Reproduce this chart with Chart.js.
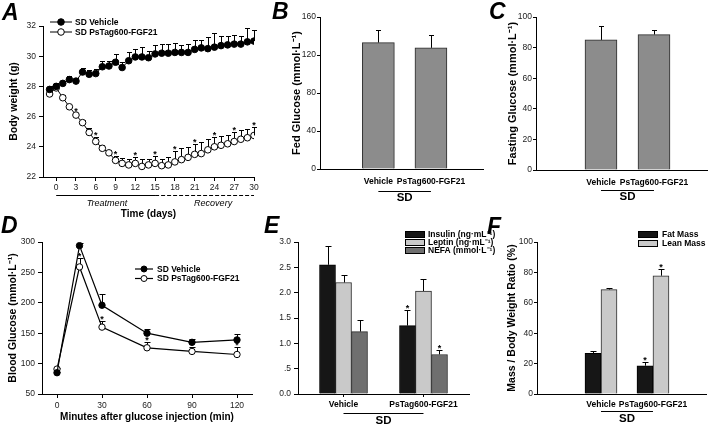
<!DOCTYPE html>
<html><head><meta charset="utf-8">
<script src="https://cdn.jsdelivr.net/npm/chart.js@4.4.1/dist/chart.umd.min.js"></script>
<style>
html,body{margin:0;padding:0;background:#fff;}
body{width:709px;height:427px;position:relative;overflow:hidden;}
.pc{position:absolute;}
.pc canvas{display:block;}
.lt{position:absolute;font-family:"Liberation Sans",Arial,sans-serif;font-weight:bold;font-style:italic;font-size:23px;line-height:23px;color:#000;}
</style></head><body>
<div class="pc" style="left:0;top:0"><canvas id="cA" width="262" height="220"></canvas></div>
<div class="pc" style="left:262px;top:0"><canvas id="cB" width="222" height="218"></canvas></div>
<div class="pc" style="left:484px;top:0"><canvas id="cC" width="225" height="218"></canvas></div>
<div class="pc" style="left:0;top:218px"><canvas id="cD" width="262" height="209"></canvas></div>
<div class="pc" style="left:262px;top:218px"><canvas id="cE" width="250" height="209"></canvas></div>
<div class="pc" style="left:500px;top:218px"><canvas id="cF" width="209" height="209"></canvas></div>
<div class="lt" style="left:2px;top:1px">A</div>
<div class="lt" style="left:272px;top:0px">B</div>
<div class="lt" style="left:489px;top:0px">C</div>
<div class="lt" style="left:1px;top:214px">D</div>
<div class="lt" style="left:264px;top:214px">E</div>
<div class="lt" style="left:487px;top:215px">F</div>
<script>
// ================= DATA =================
const seriesNames = ['SD Vehicle', 'SD PsTag600-FGF21'];
const groups = ['Vehicle', 'PsTag600-FGF21'];
const groupTitle = 'SD';

// Panel A: body weight (g)
const daysA = [-1,0,1,2,3,4,5,6,7,8,9,10,11,12,13,14,15,16,17,18,19,20,21,22,23,24,25,26,27,28,29,30];
const vehA = [27.8,28.0,28.2,28.45,28.35,28.95,28.8,28.85,29.3,29.35,29.6,29.25,29.7,29.95,29.95,29.9,30.15,30.2,30.2,30.25,30.25,30.25,30.45,30.55,30.5,30.6,30.7,30.75,30.8,30.8,30.95,31.0];
const vehAErr = [0.25,0.2,0.15,0.25,0.2,0.25,0.3,0.3,0.35,0.35,0.55,0.35,0.6,0.55,0.65,0.45,0.6,0.6,0.6,0.6,0.5,0.55,0.6,0.5,0.75,0.95,0.65,0.6,0.6,0.55,0.9,0.75];
const fgfA = [27.5,27.9,27.25,26.65,26.1,25.6,24.95,24.35,23.9,23.6,23.1,22.9,22.8,22.9,22.7,22.8,22.9,22.75,22.8,23.0,23.15,23.3,23.5,23.55,23.8,24.0,24.1,24.2,24.35,24.5,24.6,24.75];
const fgfAErr = [0.15,0.15,0.15,0.15,0.15,0.15,0.3,0.3,0.25,0.2,0.3,0.35,0.4,0.45,0.5,0.4,0.5,0.45,0.55,0.7,0.75,0.7,0.7,0.8,0.7,0.65,0.6,0.55,0.65,0.6,0.55,0.55];
const sigDaysA = [3,6,9,12,15,18,21,24,27,30];
const xTicksA = [0,3,6,9,12,15,18,21,24,27,30];
const phasesA = [
  { label: 'Treatment', from: 0, to: 15, labelAt: 7.7, dashed: false },
  { label: 'Recovery', from: 15, to: 30, labelAt: 23.8, dashed: true }
];

// Panel B / C: glucose
const fedGlucose = [133, 127.5];
const fedGlucoseErr = [13, 13.5];
const fastGlucose = [85, 88.5];
const fastGlucoseErr = [9, 3];

// Panel D: glucose tolerance
const minutesD = [0,15,30,60,90,120];
const xTicksD = [0,30,60,90,120];
const vehD = [85,294,196,150,135,139];
const vehDErr = [2,5,18,7,6,9];
const fgfD = [91,259,160,126,120,115];
const fgfDErr = [2,15,10,10,7,12];
const sigD = [1,2,3,4,5];

// Panel E: serum parameters
const insulin = [2.55, 1.35], insulinErr = [0.38, 0.30];
const leptin  = [2.20, 2.03], leptinErr  = [0.15, 0.24];
const nefa    = [1.23, 0.78], nefaErr    = [0.24, 0.08];
const sigInsulin = [1], sigLeptin = [], sigNefa = [1];
const yTickLabelsE = ['0.0','.5','1.0','1.5','2.0','2.5','3.0'];

// Panel F: body composition
const fatMass = [26.8, 18.6], fatMassErr = [1.6, 2.2];
const leanMass = [68.7, 77.8], leanMassErr = [1.3, 4.2];
const sigFat = [1], sigLean = [1];

// ================= HELPERS =================
const FONT = '"Liberation Sans", Arial, sans-serif';
Chart.defaults.font.family = FONT;
Chart.defaults.color = '#000';
Chart.defaults.animation = false;
Chart.defaults.plugins.legend.display = false;
Chart.defaults.plugins.tooltip.enabled = false;
Chart.defaults.plugins.title.display = false;

function fix(prop, size) {
  return s => { s[prop] = size; s.paddingLeft = 0; s.paddingRight = 0; s.paddingTop = 0; s.paddingBottom = 0; };
}
function numAxis(o) {
  const ax = {
    type: 'linear', min: o.min, max: o.max, offset: false,
    afterFit: fix(o.horizontal ? 'height' : 'width', o.size),
    ticks: { stepSize: o.step, color: '#222', font: { size: 8.5 }, padding: o.pad ?? 3, autoSkip: false, maxRotation: 0,
      callback: o.fmt || (v => v) },
    grid: { display: true, offset: false, drawOnChartArea: false, drawTicks: true, tickLength: o.tl ?? 4, color: '#000', lineWidth: 1 },
    border: { display: true, color: '#000', width: 1 },
    title: o.title ? { display: true, text: o.title, color: '#000', font: { size: o.tsize || 11, weight: 'bold' },
      padding: o.horizontal ? { top: 0, bottom: o.tpad } : { top: o.tpad, bottom: 0 } } : { display: false }
  };
  if (o.ticks) ax.afterBuildTicks = s => { s.ticks = o.ticks.map(v => ({ value: v })); };
  return ax;
}
function catAxis(o) {
  return {
    type: 'linear', min: o.min, max: o.max, offset: false,
    afterFit: fix('height', o.size),
    afterBuildTicks: s => { s.ticks = groups.map((_, i) => ({ value: i + 1 })); },
    ticks: { autoSkip: false, maxRotation: 0, color: '#000', font: { size: 8.5, weight: 'bold' }, padding: o.pad,
      callback: v => groups[Math.round(v) - 1] },
    grid: { display: o.tl > 0, offset: false, drawOnChartArea: false, drawTicks: o.tl > 0, tickLength: o.tl || 0, color: '#000' },
    border: { display: true, color: '#000', width: 1 }
  };
}

// error bars (drawn below marks) + significance asterisks
Chart.register({
  id: 'errbars',
  beforeDatasetsDraw(chart, args, opts) {
    const ctx = chart.ctx, ys = chart.scales.y, cap = opts.cap || 5;
    chart.data.datasets.forEach((ds, di) => {
      if (!ds.err) return;
      const meta = chart.getDatasetMeta(di);
      ctx.save(); ctx.strokeStyle = '#000'; ctx.lineWidth = 1; ctx.beginPath();
      meta.data.forEach((el, i) => {
        const e = ds.err[i]; if (!e) return;
        const v = ds.data[i].y;
        const x = Math.round(el.x) + 0.5;
        const y0 = ys.getPixelForValue(v);
        const y1 = Math.round(ys.getPixelForValue(v + e)) + 0.5;
        ctx.moveTo(x, y0); ctx.lineTo(x, y1);
        ctx.moveTo(x - cap / 2, y1); ctx.lineTo(x + cap / 2, y1);
      });
      ctx.stroke(); ctx.restore();
    });
  },
  afterDatasetsDraw(chart, args, opts) {
    const ctx = chart.ctx, ys = chart.scales.y;
    chart.data.datasets.forEach((ds, di) => {
      if (!ds.sig) return;
      const meta = chart.getDatasetMeta(di);
      ctx.save(); ctx.fillStyle = '#000'; ctx.font = 'bold 9px ' + FONT;
      ctx.textAlign = 'center'; ctx.textBaseline = 'alphabetic';
      ds.sig.forEach(i => {
        const el = meta.data[i]; if (!el) return;
        const top = ds.data[i].y + (ds.err ? ds.err[i] : 0);
        ctx.fillText('*', el.x, ys.getPixelForValue(top) + (opts.sigDy ?? 1));
      });
      ctx.restore();
    });
  }
});

function lineLegend(x1, x2, y0, dy, tx, r) {
  return { id: 'lineLegend', afterDraw(chart) {
    const ctx = chart.ctx;
    chart.data.datasets.forEach((ds, i) => {
      const y = y0 + i * dy;
      ctx.save();
      ctx.strokeStyle = '#000'; ctx.lineWidth = ds.borderWidth;
      ctx.beginPath(); ctx.moveTo(x1, y); ctx.lineTo(x2, y); ctx.stroke();
      ctx.beginPath(); ctx.arc((x1 + x2) / 2, y, r, 0, Math.PI * 2);
      ctx.fillStyle = ds.pointBackgroundColor; ctx.fill(); ctx.lineWidth = 1; ctx.stroke();
      ctx.fillStyle = '#000'; ctx.font = 'bold 8.5px ' + FONT; ctx.textAlign = 'left'; ctx.textBaseline = 'middle';
      ctx.fillText(ds.label, tx, y + 0.5);
      ctx.restore();
    });
  }};
}
function boxLegend(x, w, h, y0, dy, tx) {
  return { id: 'boxLegend', afterDraw(chart) {
    const ctx = chart.ctx;
    chart.data.datasets.forEach((ds, i) => {
      const y = y0 + i * dy;
      ctx.save();
      ctx.fillStyle = ds.backgroundColor; ctx.fillRect(x, y - h / 2, w, h);
      ctx.strokeStyle = '#000'; ctx.lineWidth = 1; ctx.strokeRect(x + 0.5, Math.round(y - h / 2) + 0.5, w, h);
      ctx.fillStyle = '#000'; ctx.font = 'bold 8.5px ' + FONT; ctx.textAlign = 'left'; ctx.textBaseline = 'middle';
      ctx.fillText(ds.label, tx, y + 0.5);
      ctx.restore();
    });
  }};
}
function groupBracket(lineDy, textDy) {
  return { id: 'groupBracket', afterDraw(chart) {
    const ctx = chart.ctx, xs = chart.scales.x, b = chart.chartArea.bottom;
    const x1 = xs.getPixelForValue(1), x2 = xs.getPixelForValue(groups.length);
    const y = Math.round(b + lineDy) + 0.5;
    ctx.save(); ctx.strokeStyle = '#000'; ctx.lineWidth = 1;
    ctx.beginPath(); ctx.moveTo(x1, y); ctx.lineTo(x2, y); ctx.stroke();
    ctx.fillStyle = '#000'; ctx.font = 'bold 11.5px ' + FONT; ctx.textAlign = 'center'; ctx.textBaseline = 'middle';
    ctx.fillText(groupTitle, (x1 + x2) / 2, b + textDy);
    ctx.restore();
  }};
}
const xy = (xs, ys) => xs.map((x, i) => ({ x, y: ys[i] }));
const gxy = ys => ys.map((y, i) => ({ x: i + 1, y }));

// ================= PANEL A =================
new Chart(document.getElementById('cA'), {
  type: 'line',
  data: { datasets: [
    { label: seriesNames[0], data: xy(daysA, vehA), err: vehAErr, borderColor: '#000', borderWidth: 1,
      pointRadius: 3.3, pointBackgroundColor: '#000', pointBorderColor: '#000', pointBorderWidth: 1 },
    { label: seriesNames[1], data: xy(daysA, fgfA), err: fgfAErr, sig: sigDaysA.map(d => daysA.indexOf(d)),
      borderColor: '#000', borderWidth: 1, pointRadius: 3.3, pointBackgroundColor: '#fff', pointBorderColor: '#000', pointBorderWidth: 1 }
  ]},
  options: {
    responsive: false, devicePixelRatio: 1,
    layout: { padding: { left: 0, top: 26, right: 8, bottom: 0 } },
    plugins: { errbars: { cap: 5, sigDy: 1 } },
    scales: {
      x: numAxis({ horizontal: true, min: -2, max: 30, size: 43, ticks: xTicksA, pad: 2, title: 'Time (days)', tsize: 10, tpad: 0 }),
      y: numAxis({ min: 22, max: 32, step: 2, size: 43, pad: 3, title: 'Body weight (g)', tsize: 10.5, tpad: 8 })
    }
  },
  plugins: [lineLegend(50, 72, 22, 10, 75, 3.3), {
    id: 'phases', afterDraw(chart) {
      const ctx = chart.ctx, xs = chart.scales.x, y = 195.5;
      ctx.save(); ctx.strokeStyle = '#000'; ctx.lineWidth = 1;
      phasesA.forEach(p => {
        ctx.setLineDash(p.dashed ? [4, 2] : []);
        ctx.beginPath(); ctx.moveTo(xs.getPixelForValue(p.from), y); ctx.lineTo(xs.getPixelForValue(p.to), y); ctx.stroke();
        ctx.fillStyle = '#000'; ctx.font = 'italic 9px ' + FONT; ctx.textAlign = 'center'; ctx.textBaseline = 'middle';
        ctx.fillText(p.label, xs.getPixelForValue(p.labelAt), 203);
      });
      ctx.restore();
    }
  }]
});

// ================= PANEL B =================
new Chart(document.getElementById('cB'), {
  type: 'bar',
  data: { datasets: [
    { label: 'Fed Glucose', data: gxy(fedGlucose), err: fedGlucoseErr, backgroundColor: '#8c8c8c', borderColor: '#2a2a2a', borderWidth: 1, barThickness: 32 }
  ]},
  options: {
    responsive: false, devicePixelRatio: 1,
    layout: { padding: { left: 0, top: 17, right: 1, bottom: 0 } },
    plugins: { errbars: { cap: 5 } },
    scales: {
      x: catAxis({ min: -0.11, max: 2.99, size: 49, pad: 8, tl: 0 }),
      y: numAxis({ min: 0, max: 160, step: 40, size: 58, pad: 1, tl: 3, title: 'Fed Glucose (mmol·L⁻¹)', tpad: 28 })
    }
  },
  plugins: [groupBracket(22, 29)]
});

// ================= PANEL C =================
new Chart(document.getElementById('cC'), {
  type: 'bar',
  data: { datasets: [
    { label: 'Fasting Glucose', data: gxy(fastGlucose), err: fastGlucoseErr, backgroundColor: '#8c8c8c', borderColor: '#2a2a2a', borderWidth: 1, barThickness: 32 }
  ]},
  options: {
    responsive: false, devicePixelRatio: 1,
    layout: { padding: { left: 0, top: 17, right: 2, bottom: 0 } },
    plugins: { errbars: { cap: 5 } },
    scales: {
      x: catAxis({ min: -0.226, max: 3.0, size: 48, pad: 8, tl: 0 }),
      y: numAxis({ min: 0, max: 100, step: 20, size: 52, pad: 1, tl: 3, title: 'Fasting Glucose (mmol·L⁻¹)', tpad: 22 })
    }
  },
  plugins: [groupBracket(20, 27)]
});

// ================= PANEL D =================
new Chart(document.getElementById('cD'), {
  type: 'line',
  data: { datasets: [
    { label: seriesNames[0], data: xy(minutesD, vehD), err: vehDErr, borderColor: '#000', borderWidth: 1.2,
      pointRadius: 3.2, pointBackgroundColor: '#000', pointBorderColor: '#000', pointBorderWidth: 1 },
    { label: seriesNames[1], data: xy(minutesD, fgfD), err: fgfDErr, sig: sigD, borderColor: '#000', borderWidth: 1.2,
      pointRadius: 3.2, pointBackgroundColor: '#fff', pointBorderColor: '#000', pointBorderWidth: 1 }
  ]},
  options: {
    responsive: false, devicePixelRatio: 1,
    layout: { padding: { left: 0, top: 24, right: 10, bottom: 0 } },
    plugins: { errbars: { cap: 6, sigDy: 1 } },
    scales: {
      x: numAxis({ horizontal: true, min: -10, max: 130, size: 33, ticks: xTicksD, pad: 3, title: 'Minutes after glucose injection (min)', tsize: 10, tpad: 4 }),
      y: numAxis({ min: 50, max: 300, step: 50, size: 42, pad: 3, title: 'Blood Glucose (mmol·L⁻¹)', tsize: 10.5, tpad: 7 })
    }
  },
  plugins: [lineLegend(135, 153, 51, 9.5, 157, 3)]
});

// ================= PANEL E =================
new Chart(document.getElementById('cE'), {
  type: 'bar',
  data: { datasets: [
    { label: 'Insulin (ng·mL⁻¹)', data: gxy(insulin), err: insulinErr, sig: sigInsulin, backgroundColor: '#161616', borderColor: '#000', borderWidth: 1, barThickness: 16 },
    { label: 'Leptin (ng·mL⁻¹)', data: gxy(leptin), err: leptinErr, sig: sigLeptin, backgroundColor: '#c9c9c9', borderColor: '#2a2a2a', borderWidth: 1, barThickness: 16 },
    { label: 'NEFA (mmol·L⁻¹)', data: gxy(nefa), err: nefaErr, sig: sigNefa, backgroundColor: '#6f6f6f', borderColor: '#2a2a2a', borderWidth: 1, barThickness: 16 }
  ]},
  options: {
    responsive: false, devicePixelRatio: 1,
    layout: { padding: { left: 0, top: 24, right: 43, bottom: 0 } },
    plugins: { errbars: { cap: 6, sigDy: 1 } },
    scales: {
      x: catAxis({ min: 0.431, max: 2.569, size: 33, pad: 3, tl: 3 }),
      y: numAxis({ min: 0, max: 3, step: 0.5, size: 36, pad: 3, fmt: v => yTickLabelsE[Math.round(v * 2)] })
    }
  },
  plugins: [boxLegend(143, 19, 6, 16, 8, 166), groupBracket(19, 27)]
});

// ================= PANEL F =================
new Chart(document.getElementById('cF'), {
  type: 'bar',
  data: { datasets: [
    { label: 'Fat Mass', data: gxy(fatMass), err: fatMassErr, sig: sigFat, backgroundColor: '#161616', borderColor: '#000', borderWidth: 1, barThickness: 16 },
    { label: 'Lean Mass', data: gxy(leanMass), err: leanMassErr, sig: sigLean, backgroundColor: '#c9c9c9', borderColor: '#2a2a2a', borderWidth: 1, barThickness: 16 }
  ]},
  options: {
    responsive: false, devicePixelRatio: 1,
    layout: { padding: { left: 0, top: 24, right: 3, bottom: 0 } },
    plugins: { errbars: { cap: 6, sigDy: 1 } },
    scales: {
      x: catAxis({ min: -0.231, max: 3.02, size: 33, pad: 6, tl: 0 }),
      y: numAxis({ min: 0, max: 100, step: 20, size: 37, pad: 1, tl: 3, title: 'Mass / Body Weight Ratio (%)', tsize: 10.5, tpad: 6 })
    }
  },
  plugins: [boxLegend(138, 19, 6, 16, 9, 162), groupBracket(17, 24.5)]
});
</script>
</body></html>
